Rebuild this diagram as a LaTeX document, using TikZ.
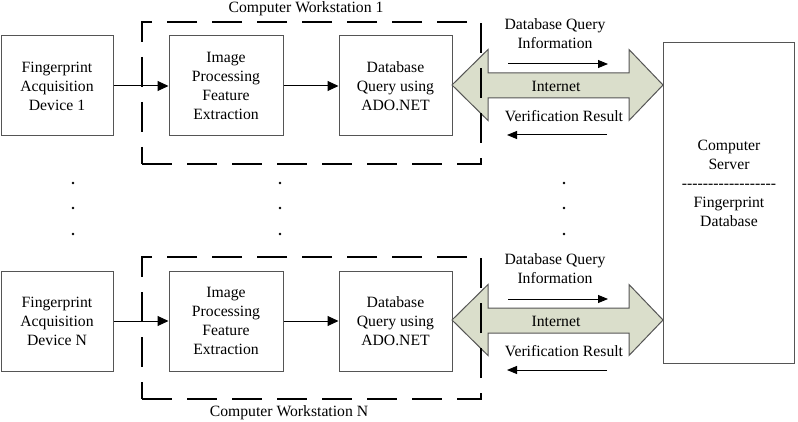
\documentclass[tikz,border=0pt]{standalone}
\usepackage{fontspec}
\setmainfont{Liberation Serif}
\usetikzlibrary{arrows.meta}
\definecolor{boxgray}{RGB}{85,85,85}
\definecolor{netfill}{RGB}{218,222,203}
\begin{document}
\begin{tikzpicture}[x=1pt,y=-1pt,
  every node/.style={font=\fontsize{15.7}{19}\selectfont, align=center, inner sep=0pt},
  blockbox/.style={draw=boxgray, line width=1pt, minimum height=100pt},
  wsbox/.style={draw=black, line width=2.8pt, dash pattern=on 30pt off 15pt, minimum width=339pt, minimum height=142pt},
  flow/.style={draw=black, line width=1pt, -{Triangle[length=11pt,width=10pt]}},
  msg/.style={draw=black, line width=1pt, -{Triangle[length=10pt,width=8pt]}},
  netarrow/.style={draw=boxgray, line width=1pt, fill=netfill},
  dotmark/.style={circle, fill=black, inner sep=0pt, minimum size=2.8pt}
]
\useasboundingbox (0,0) rectangle (798,422);

% server
\node[draw=boxgray, line width=1pt, minimum width=131pt, minimum height=320pt] (server) at (728.5,203) {};
\node (servertext) at (729,183) {Computer\\Server\\-{}-{}-{}-{}-{}-{}-{}-{}-{}-{}-{}-{}-{}-{}-{}-{}-{}-\\Fingerprint\\Database};

\foreach \r/\o/\n in {1/0/1, 2/235/N}{
  % internet double arrow
  \path[netarrow] (452,85+\o) -- (488,49.5+\o) -- (488,73+\o) -- (629,73+\o) -- (629,49.5+\o)
     -- (663,85+\o) -- (629,120.5+\o) -- (629,98+\o) -- (488,98+\o) -- (488,120.5+\o) -- cycle;
  \node (net\r) at (556,86+\o) {Internet};

  \node[blockbox, minimum width=112pt] (dev\r) at (57,86+\o) {Fingerprint\\Acquisition\\Device \n};
  \node[blockbox, minimum width=114pt] (ip\r) at (226,86+\o) {Image\\Processing\\Feature\\Extraction};
  \node[blockbox, minimum width=113pt] (db\r) at (395.5,86+\o) {Database\\Query using\\ADO.NET};

  \draw[flow] (dev\r) -- (ip\r);
  \draw[flow] (ip\r) -- (db\r);

  \node[wsbox] (ws\r) at (311.5,93+\o) {};

  \node (qlabel\r) at (555,34+\o) {Database Query\\Information};
  \node (vlabel\r) at (564,116+\o) {Verification Result};
  \coordinate (qs\r) at (508,64+\o);
  \coordinate (qe\r) at (608,64+\o);
  \coordinate (vs\r) at (607,135+\o);
  \coordinate (ve\r) at (507,135+\o);
  \draw[msg] (qs\r) -- (qe\r);
  \draw[msg] (vs\r) -- (ve\r);
}

\node (wslabel1) at (306,8.5) {Computer Workstation 1};
\node (wslabelN) at (289,413) {Computer Workstation N};

\foreach \x/\c in {73/a, 280/b, 564/c}{
  \foreach \y/\k in {183/1, 208/2, 234/3}{
    \node[dotmark] (dot\c\k) at (\x,\y) {};
  }
}
\end{tikzpicture}
\end{document}
